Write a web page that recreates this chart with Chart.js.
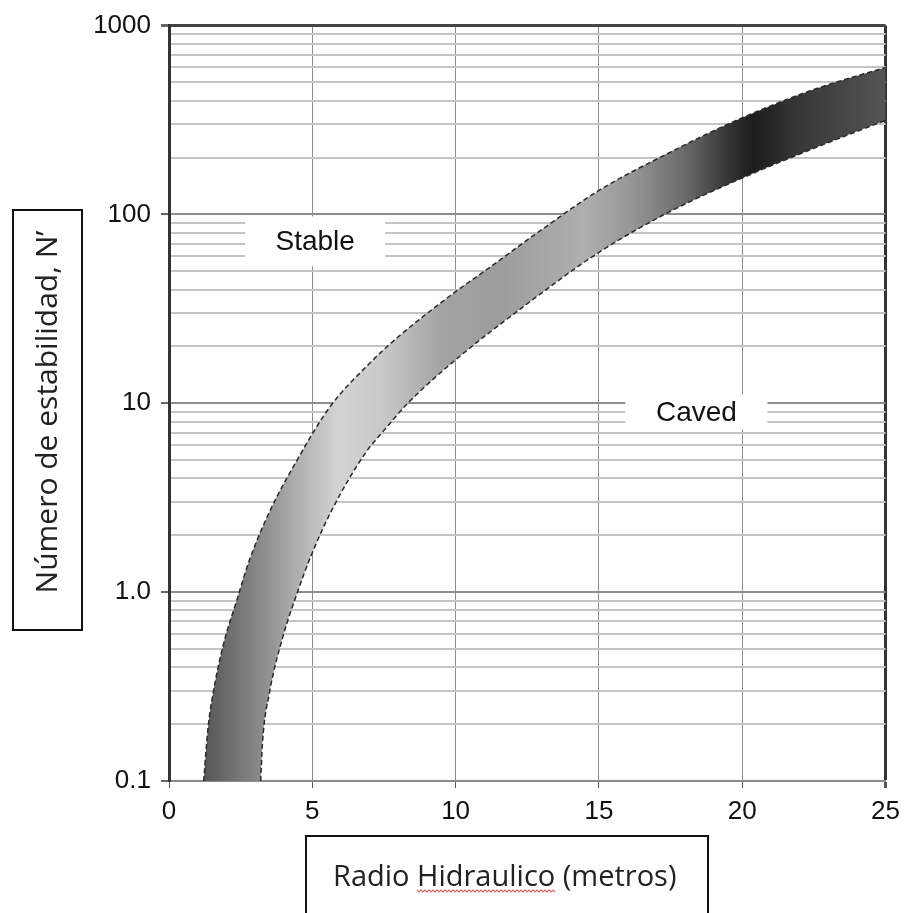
<!DOCTYPE html>
<html>
<head>
<meta charset="utf-8">
<script src="https://cdn.jsdelivr.net/npm/chart.js@4.4.1/dist/chart.umd.min.js"></script>
<style>
  html, body { margin: 0; padding: 0; background: #fff; }
  canvas { display: block; }
</style>
</head>
<body>
<canvas id="myChart" width="908" height="913"></canvas>
<script>
// upper (stable side) limit of the transition band
const upperX = [1.21, 1.36, 1.5, 1.9, 2.36, 2.8, 3.5, 4.5, 5.6, 7, 8, 10, 11, 13, 15, 17.5, 20, 22.5, 25];
const upperN = [0.1, 0.19, 0.27, 0.53, 0.9, 1.47, 2.65, 5.1, 9.5, 16.3, 22.5, 39, 50, 83, 134, 214, 325, 459, 600];
// lower (caved side) limit
const lowerX = [3.2, 3.26, 3.5, 4.0, 4.4, 4.95, 5.67, 6.85, 7.54, 8.33, 10.06, 12, 15, 17.5, 20, 22.5, 25];
const lowerN = [0.1, 0.158, 0.29, 0.6, 0.92, 1.55, 2.7, 5.45, 7.3, 10, 17.3, 29.5, 63, 104, 156, 224, 315];

const xTickValues = [0, 5, 10, 15, 20, 25];
const xTickLabels = ['0', '5', '10', '15', '20', '25'];
const yTickValues = [0.1, 1, 10, 100, 1000];
const yTickLabels = ['0.1', '1.0', '10', '100', '1000'];

const xTitle = 'Radio Hidraulico (metros)';
const yTitle = 'Número de estabilidad, N’';

// grey shading along the band, keyed on hydraulic radius
const shadeAt = [0, 1.2, 3.0, 4.5, 5.9, 7.5, 9.5, 11.5, 14.5, 16.2, 18.0, 19.5, 20.4, 21.8, 25];
const shadeCol = ['#4a4a4a', '#555555', '#858585', '#b0b0b0', '#d4d4d4', '#c8c8c8', '#a4a4a4',
                  '#9c9c9c', '#afafaf', '#959595', '#6a6a6a', '#353535', '#1c1c1c', '#353535', '#555555'];

const toPts = (xs, ys) => xs.map((x, i) => ({x: x, y: ys[i]}));

function bandShade(chart) {
  const sx = chart.scales.x;
  const x0 = sx.getPixelForValue(0), x1 = sx.getPixelForValue(25);
  const g = chart.ctx.createLinearGradient(x0, 0, x1, 0);
  shadeAt.forEach((v, i) => g.addColorStop(v / 25, shadeCol[i]));
  return g;
}

function isDecade(v) {
  const l = Math.log10(v);
  return Math.abs(l - Math.round(l)) < 1e-9;
}

// fill between the two limit lines, closed along the bottom axis
const bandFill = {
  id: 'bandFill',
  beforeDatasetsDraw(chart) {
    const {ctx, chartArea: a} = chart;
    const up = chart.getDatasetMeta(0).dataset;
    const lo = chart.getDatasetMeta(1).dataset;
    up.updateControlPoints(a, 'x');
    lo.updateControlPoints(a, 'x');
    ctx.save();
    ctx.beginPath();
    ctx.rect(a.left, a.top, a.width, a.height);
    ctx.clip();
    ctx.beginPath();
    up.pathSegment(ctx, up.segments[0]);
    lo.pathSegment(ctx, lo.segments[0], {move: false, reverse: true});
    ctx.closePath();
    ctx.fillStyle = bandShade(chart);
    ctx.fill();
    ctx.restore();
  }
};

// white boxes with the region names, drawn over the grid
const regionText = [
  {text: 'Stable', x: 5.1, y: 72, w: 140, h: 50},
  {text: 'Caved', x: 18.4, y: 9.0, w: 142, h: 35}
];
const regionLabels = {
  id: 'regionLabels',
  beforeDatasetsDraw(chart) {
    const {ctx, scales} = chart;
    ctx.save();
    regionText.forEach(r => {
      const px = scales.x.getPixelForValue(r.x);
      const py = scales.y.getPixelForValue(r.y);
      ctx.fillStyle = '#fff';
      ctx.fillRect(px - r.w / 2, py - r.h / 2, r.w, r.h);
      ctx.fillStyle = '#111';
      ctx.font = '28px "Liberation Sans"';
      ctx.textAlign = 'center';
      ctx.textBaseline = 'middle';
      ctx.fillText(r.text, px, py + 1);
    });
    ctx.restore();
  }
};

// axis titles sit in their own framed boxes
const titleBoxes = {
  id: 'titleBoxes',
  afterDraw(chart) {
    const ctx = chart.ctx;
    ctx.save();
    ctx.strokeStyle = '#111';
    ctx.lineWidth = 2;

    ctx.fillStyle = '#fff';
    ctx.fillRect(13, 210, 69, 420);
    ctx.strokeRect(13, 210, 69, 420);
    ctx.translate(48, 412);
    ctx.rotate(-Math.PI / 2);
    ctx.fillStyle = '#222';
    ctx.font = '30px "Open Sans"';
    ctx.textAlign = 'center';
    ctx.textBaseline = 'middle';
    ctx.fillText(yTitle, 0, 0);
    ctx.setTransform(1, 0, 0, 1, 0, 0);

    ctx.fillStyle = '#fff';
    ctx.fillRect(306, 836, 402, 90);
    ctx.strokeRect(306, 836, 402, 90);
    ctx.fillStyle = '#222';
    ctx.font = '29px "Open Sans"';
    ctx.textAlign = 'left';
    ctx.textBaseline = 'alphabetic';
    const tx = 333, ty = 886;
    ctx.fillText(xTitle, tx, ty);

    // spell-check squiggle under "Hidraulico"
    const s0 = tx + ctx.measureText('Radio ').width;
    const s1 = s0 + ctx.measureText('Hidraulico').width;
    ctx.strokeStyle = '#e06666';
    ctx.lineWidth = 1.2;
    ctx.beginPath();
    let up = true;
    for (let x = s0; x <= s1; x += 2) {
      const y = ty + 4 + (up ? 0 : 2);
      if (x === s0) ctx.moveTo(x, y); else ctx.lineTo(x, y);
      up = !up;
    }
    ctx.stroke();
    ctx.restore();
  }
};

Chart.defaults.font.family = '"Liberation Sans", Arial, sans-serif';

const ctx = document.getElementById('myChart');
new Chart(ctx, {
  type: 'scatter',
  data: {
    datasets: [{
      label: 'upper',
      data: toPts(upperX, upperN),
      showLine: true,
      cubicInterpolationMode: 'monotone',
      pointRadius: 0,
      borderColor: '#2a2a2a',
      borderWidth: 1.5,
      borderDash: [5, 3],
      fill: false
    }, {
      label: 'lower',
      data: toPts(lowerX, lowerN),
      showLine: true,
      cubicInterpolationMode: 'monotone',
      pointRadius: 0,
      borderColor: '#2a2a2a',
      borderWidth: 1.5,
      borderDash: [5, 3],
      fill: false
    }]
  },
  options: {
    responsive: false,
    animation: false,
    devicePixelRatio: 1,
    layout: { padding: { top: 23, right: 16, left: 0, bottom: 0 } },
    plugins: {
      legend: { display: false },
      tooltip: { enabled: false }
    },
    scales: {
      x: {
        type: 'linear',
        min: 0,
        max: 25,
        afterBuildTicks: s => { s.ticks = xTickValues.map(v => ({value: v})); },
        afterFit: s => { s.height = 132; },
        ticks: {
          autoSkip: false,
          maxRotation: 0,
          padding: 8,
          color: '#111',
          font: { size: 26 },
          callback: v => xTickLabels[xTickValues.indexOf(v)]
        },
        grid: {
          color: c => c.tick && c.tick.value === 25 ? '#333' : '#8c8c8c',
          lineWidth: c => c.tick && c.tick.value === 25 ? 3 : 1,
          tickLength: 7,
          tickColor: '#555'
        },
        border: { color: '#8a8a8a', width: 2 }
      },
      y: {
        type: 'logarithmic',
        min: 0.1,
        max: 1000,
        afterBuildTicks: s => {
          const t = [];
          for (let d = -1; d <= 2; d++) {
            for (let k = 1; k <= 9; k++) t.push({value: k * Math.pow(10, d)});
          }
          t.push({value: 1000});
          s.ticks = t;
        },
        afterFit: s => { s.width = 169; },
        ticks: {
          autoSkip: false,
          padding: 10,
          color: '#111',
          font: { size: 26 },
          callback: v => {
            const i = yTickValues.findIndex(t => Math.abs(t / v - 1) < 1e-9);
            return i < 0 ? '' : yTickLabels[i];
          }
        },
        grid: {
          color: c => {
            if (!c.tick) return '#c4c4c4';
            if (Math.abs(c.tick.value - 1000) < 1e-6) return '#444';
            return isDecade(c.tick.value) ? '#8e8e8e' : '#c4c4c4';
          },
          lineWidth: c => (c.tick && Math.abs(c.tick.value - 1000) < 1e-6) ? 3 : 2,
          tickLength: 8,
          tickColor: c => (c.tick && isDecade(c.tick.value)) ? '#666' : 'rgba(0,0,0,0)'
        },
        border: { color: '#333', width: 3 }
      }
    }
  },
  plugins: [bandFill, regionLabels, titleBoxes]
});
</script>
</body>
</html>
